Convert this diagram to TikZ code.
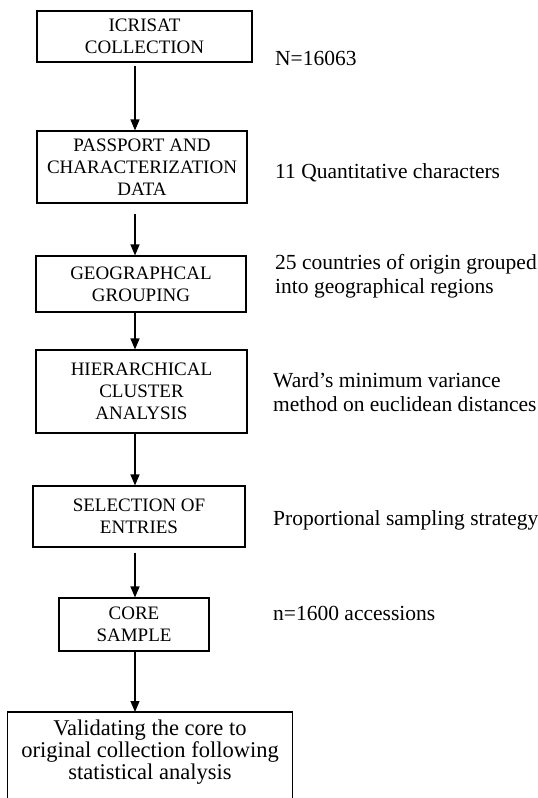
\documentclass[tikz,border=0pt]{standalone}
\usepackage{fontspec}
\setmainfont{Liberation Serif}
\usetikzlibrary{arrows.meta}
\tikzset{
    stepbox/.style={draw, line width=1.1pt, align=center, inner sep=0pt, font=\fontsize{19}{22}\selectfont},
    sidenote/.style={anchor=west, align=left, inner sep=0pt, font=\fontsize{21.5}{24}\selectfont},
    flow/.style={line width=1.1pt, -{Triangle[length=11pt,width=9pt]}}
}

\begin{document}
\begin{tikzpicture}[x=1pt,y=-1pt]
                \clip (0,0) rectangle (538,798);
                \coordinate (spine) at (135,0);
                \node[stepbox, minimum width=215pt, minimum height=51pt] (icrisat) at (144.5,36.5) {ICRISAT\\COLLECTION};
                \node[stepbox, minimum width=210pt, minimum height=72pt] (passport) at (142,167) {PASSPORT AND\\CHARACTERIZATION\\DATA};
                \node[stepbox, minimum width=210pt, minimum height=56pt] (geo) at (141,284) {GEOGRAPHCAL\\GROUPING};
                \node[stepbox, minimum width=211pt, minimum height=83pt] (cluster) at (141.5,391.5) {HIERARCHICAL\\CLUSTER\\ANALYSIS};
                \node[stepbox, minimum width=212pt, minimum height=61pt] (selection) at (139,516.5) {SELECTION OF\\ENTRIES};
                \node[stepbox, minimum width=150pt, minimum height=53pt] (core) at (134,624.5) {CORE\\SAMPLE};
                \node[stepbox, draw=none, anchor=north, minimum width=284pt, inner ysep=7.5pt, font=\fontsize{22.5}{22}\selectfont] (validate) at (150,712) {Validating the core to\\original collection following\\statistical analysis};
                \draw [line width=1.1pt] (validate.north west) rectangle ([yshift=-100pt]validate.north east);
                \draw [flow, shorten <=3pt] (icrisat.south -| spine) -- (passport.north -| spine);
                \draw [flow, shorten <=10pt] (passport.south -| spine) -- (geo.north -| spine);
                \draw [flow] (geo.south -| spine) -- (cluster.north -| spine);
                \draw [flow] (cluster.south -| spine) -- (selection.north -| spine);
                \draw [flow, shorten <=5pt] (selection.south -| spine) -- (core.north -| spine);
                \draw [flow] (core.south -| spine) -- (validate.north -| spine);
                \node[sidenote] (nsize) at (275,58) {N=16063};
                \node[sidenote] (quant) at (275,173) {11 Quantitative characters};
                \node[sidenote] (countries) at (275,276.5) {25 countries of origin grouped\\into geographical regions};
                \node[sidenote] (ward) at (273,392.5) {Ward’s minimum variance\\method on euclidean distances};
                \node[sidenote] (sampling) at (273,520) {Proportional sampling strategy};
                \node[sidenote] (accessions) at (273,613) {n=1600 accessions};
            \end{tikzpicture}
\end{document}
